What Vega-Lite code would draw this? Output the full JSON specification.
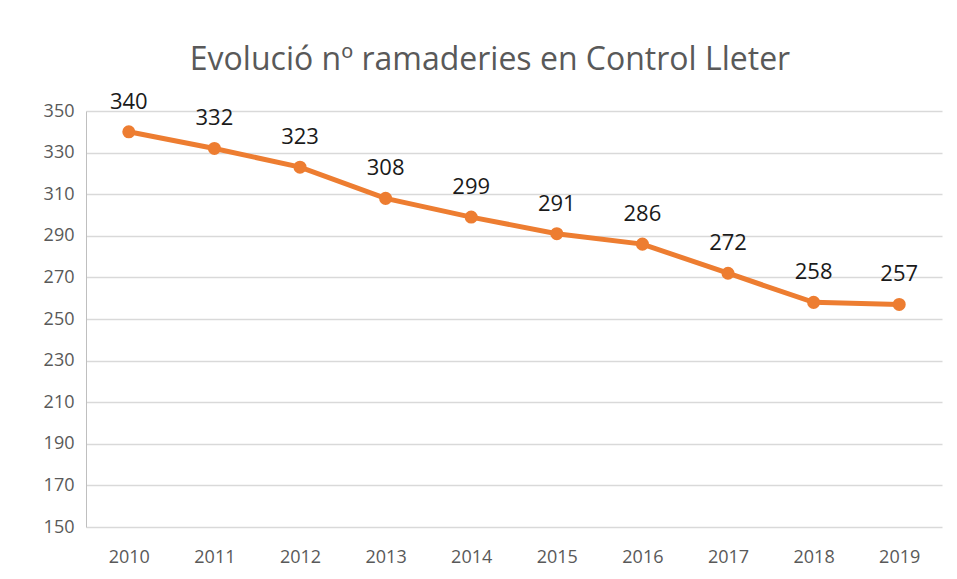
{
  "$schema": "https://vega.github.io/schema/vega-lite/v6.json",
  "autosize": {"type": "none"},
  "width": 856,
  "height": 416,
  "padding": {"left": 86, "top": 111, "right": 15, "bottom": 52},
  "background": "white",
  "title": {
    "text": "Evolució nº ramaderies en Control Lleter",
    "font": "Open Sans",
    "fontSize": 32,
    "fontWeight": "normal",
    "color": "#595959",
    "anchor": "middle",
    "frame": "group",
    "dx": -24,
    "offset": 14
  },
  "data": {
    "values": [
      {"year": "2010", "value": 340},
      {"year": "2011", "value": 332},
      {"year": "2012", "value": 323},
      {"year": "2013", "value": 308},
      {"year": "2014", "value": 299},
      {"year": "2015", "value": 291},
      {"year": "2016", "value": 286},
      {"year": "2017", "value": 272},
      {"year": "2018", "value": 258},
      {"year": "2019", "value": 257}
    ]
  },
  "config": {
    "view": {"stroke": null},
    "axis": {"labelFont": "Open Sans", "labelColor": "#595959", "labelFontSize": 18}
  },
  "encoding": {
    "x": {
      "field": "year", "type": "ordinal", "title": null,
      "scale": {"paddingInner": 0, "paddingOuter": 0},
      "axis": {"labelAngle": 0, "domain": false, "ticks": false, "labelPadding": 21}
    },
    "y": {
      "field": "value", "type": "quantitative", "title": null,
      "scale": {"domain": [150, 350], "nice": false, "zero": false},
      "axis": {"values": [150,170,190,210,230,250,270,290,310,330,350], "gridColor": "#D9D9D9", "gridWidth": 1.5, "domain": true, "domainColor": "#BFBFBF", "ticks": false, "labelPadding": 12}
    }
  },
  "layer": [
    {"mark": {"type": "line", "color": "#ED7D31", "strokeWidth": 5}},
    {"mark": {"type": "point", "filled": true, "color": "#ED7D31", "size": 170, "opacity": 1}},
    {"mark": {"type": "text", "font": "Open Sans", "fontSize": 22, "color": "#1a1a1a", "baseline": "bottom", "dy": -18},
     "encoding": {"text": {"field": "value", "type": "quantitative"}}}
  ]
}
